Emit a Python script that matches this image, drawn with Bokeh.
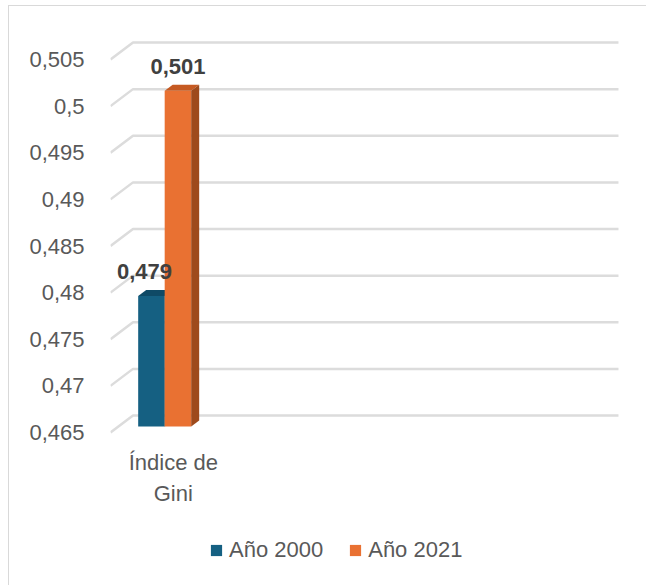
import numpy as np
from bokeh.plotting import figure
from bokeh.models import Range1d, FixedTicker, Legend, LegendItem, CustomJSTickFormatter
from bokeh.core.properties import value
from bokeh.embed import file_html
from bokeh.resources import INLINE

# ---------------- data ----------------
categories = ["Índice de\nGini"]
series_names = ["Año 2000", "Año 2021"]
values_2000 = [0.479]
values_2021 = [0.501]
labels_2000 = ["0,479"]
labels_2021 = ["0,501"]
y_ticks = [0.465, 0.47, 0.475, 0.48, 0.485, 0.49, 0.495, 0.5, 0.505]
y_tick_labels = ["0,465", "0,47", "0,475", "0,48", "0,485", "0,49", "0,495", "0,5", "0,505"]

# ---------------- style / layout constants ----------------
FONT = "Liberation Sans"
TEXT_COLOR = "#595959"
LABEL_COLOR = "#404040"
GRID_COLOR = "#dcdcdc"
BLUE = ["#156082", "#0f4a66", "#0c3d54"]     # front, top, side
ORANGE = ["#e97132", "#c65a22", "#9e4a1c"]   # front, top, side

W, H = 638, 580
OX, OY = 9, 6          # page position of the figure's canvas origin
FRAME_LEFT = 110       # page x of the frame's left edge
FRONT_BASE_Y = 432     # page y of the front floor line
PX_X = 92.36           # pixels per x unit
PX_Y = 9325.0          # pixels per y unit
X0 = -0.5
X1 = X0 + (OX + W - FRAME_LEFT) / PX_X
Y1 = y_ticks[0] + (FRONT_BASE_Y - OY) / PX_Y
Y0 = Y1 - H / PX_Y

wall_right = 5.0
dx_back, dy_back = 22.5 / PX_X, 17 / PX_Y   # depth of back wall
dx_bar, dy_bar = 8 / PX_X, 6 / PX_Y         # depth of bar front plane
ddx, ddy = 8 / PX_X, 6 / PX_Y               # bar depth
bar_w = 26.5 / PX_X

p = figure(width=W, height=H, output_backend="svg", toolbar_location=None,
           x_range=Range1d(X0, X1), y_range=Range1d(Y0, Y1),
           x_axis_location=None,
           min_border_left=FRAME_LEFT - OX, min_border_right=0, min_border_top=0, min_border_bottom=0)
p.outline_line_color = None
p.grid.visible = False
p.styles = {"margin-left": "8px", "margin-top": "5px",
            "border-left": "1px solid #d9d9d9", "border-top": "1px solid #d9d9d9"}

# y axis (front plane)
ax = p.yaxis[0]
ax.ticker = FixedTicker(ticks=y_ticks)
ax.formatter = CustomJSTickFormatter(args=dict(tvals=y_ticks, tlabs=y_tick_labels), code="""
const i = tvals.findIndex(t => Math.abs(t - tick) < 1e-9);
return i >= 0 ? tlabs[i] : '';
""")
ax.axis_line_color = None
ax.major_tick_line_color = None
ax.minor_tick_line_color = None
ax.major_label_standoff = 20
ax.major_label_text_font = FONT
ax.major_label_text_font_size = "22px"
ax.major_label_text_color = TEXT_COLOR

# 3D gridlines: front stub + back wall line
gx, gy = [], []
for v in y_ticks:
    gx.append([X0, X0 + dx_back, wall_right])
    gy.append([v, v + dy_back, v + dy_back])
p.multi_line(gx, gy, line_color=GRID_COLOR, line_width=2.5)

# bars
cat_pos = np.arange(len(categories), dtype=float)
legend_items = []
label_specs = []
label_x_offsets = [-7, 0]
for k, (vals, labs, cols, name) in enumerate(zip([values_2000, values_2021], [labels_2000, labels_2021],
                                                 [BLUE, ORANGE], series_names)):
    vals = np.array(vals)
    left = cat_pos + (k - 1) * bar_w + dx_bar
    right = left + bar_w
    bottom = np.full_like(vals, y_ticks[0]) + dy_bar
    top = vals + dy_bar
    fr = p.quad(left=left, right=right, bottom=bottom, top=top, fill_color=cols[0], line_color=None)
    # top face
    txs = [[l, l + ddx, r + ddx, r] for l, r in zip(left, right)]
    tys = [[t, t + ddy, t + ddy, t] for t in top]
    p.patches(txs, tys, fill_color=cols[1], line_color=None)
    # side face
    sxs = [[r, r + ddx, r + ddx, r] for r in right]
    sys_ = [[b, b + ddy, t + ddy, t] for b, t in zip(bottom, top)]
    p.patches(sxs, sys_, fill_color=cols[2], line_color=None)
    legend_items.append(LegendItem(label=name, renderers=[fr]))
    label_specs.append(((left + right) / 2, top + ddy, labs, label_x_offsets[k]))

# data labels (drawn above all bars)
for xs, ys, labs, xo in label_specs:
    p.text(x=xs, y=ys, text=labs, text_align="center", text_baseline="bottom",
           x_offset=xo, y_offset=-11,
           text_font=value(FONT), text_font_size="22px", text_font_style="bold", text_color=LABEL_COLOR)

# category label
p.text(x=cat_pos + 0.18, y=[y_ticks[0]] * len(categories), text=categories,
       text_align="center", text_baseline="top", y_offset=17, text_line_height=1.25,
       text_font=value(FONT), text_font_size="22px", text_color=TEXT_COLOR)

legend = Legend(items=legend_items, orientation="horizontal", location=(99, 23))
legend.glyph_width = 14
legend.glyph_height = 14
legend.label_standoff = 6
legend.spacing = 25
legend.padding = 0
legend.margin = 0
legend.border_line_color = None
legend.background_fill_alpha = 0
legend.label_text_font = FONT
legend.label_text_font_size = "22px"
legend.label_text_color = TEXT_COLOR
p.add_layout(legend, "center")

open("out.html", "w").write(file_html(p, INLINE))
